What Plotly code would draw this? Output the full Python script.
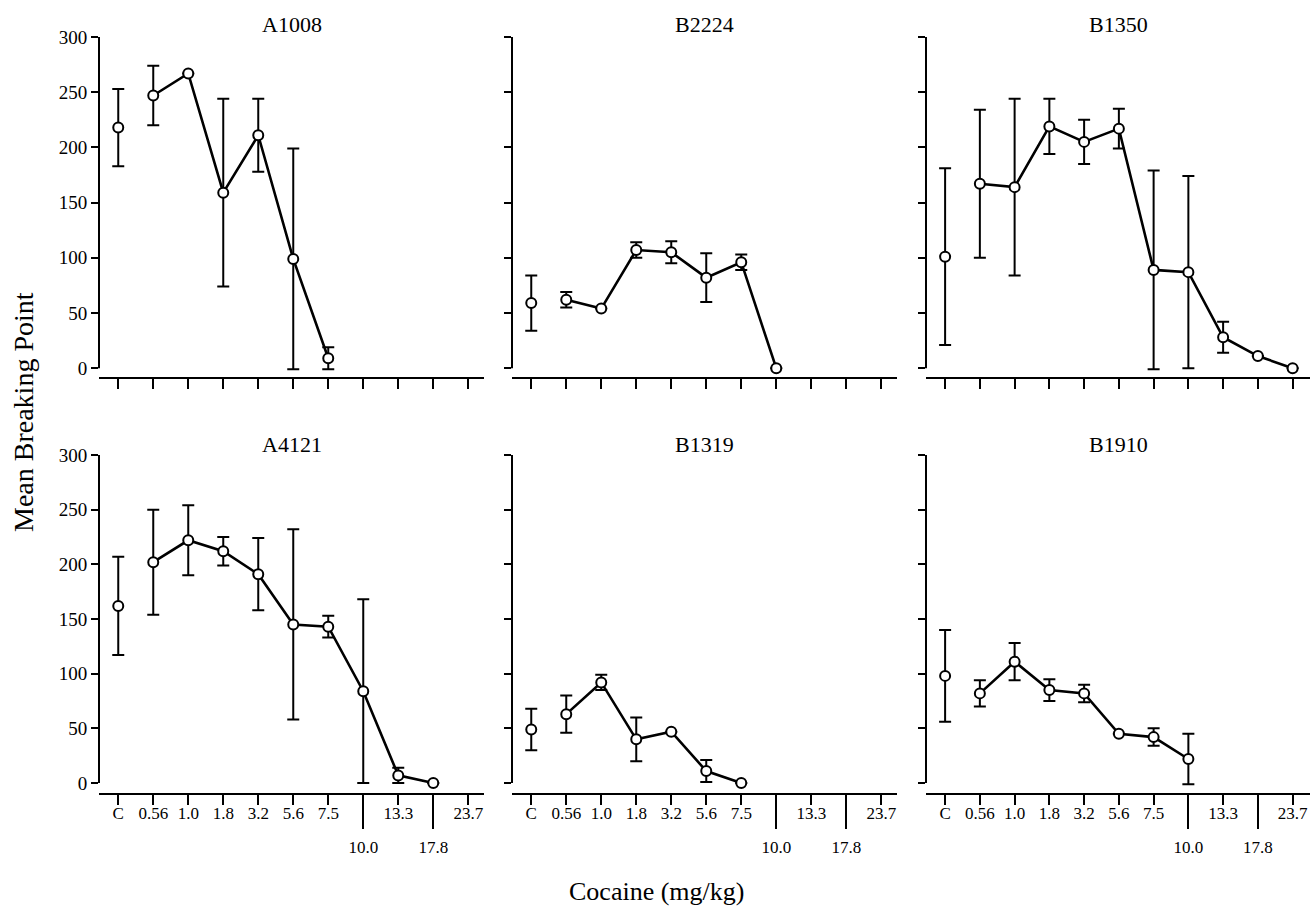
import plotly.graph_objects as go

# ---------------- data ----------------
categories = ["C", "0.56", "1.0", "1.8", "3.2", "5.6", "7.5", "10.0", "13.3", "17.8", "23.7"]
tick_text_main = ["C", "0.56", "1.0", "1.8", "3.2", "5.6", "7.5", "", "13.3", "", "23.7"]
tick_text_low = ["10.0", "17.8"]
low_tick_idx = [7, 9]
y_ticks = [0, 50, 100, 150, 200, 250, 300]

subjects = ["A1008", "B2224", "B1350", "A4121", "B1319", "B1910"]

a1008_mean = [218, 247, 267, 159, 211, 99, 9, None, None, None, None]
a1008_err = [35, 27, None, 85, 33, 100, 10, None, None, None, None]

b2224_mean = [59, 62, 54, 107, 105, 82, 96, 0, None, None, None]
b2224_err = [25, 7, None, 7, 10, 22, 7, None, None, None, None]

b1350_mean = [101, 167, 164, 219, 205, 217, 89, 87, 28, 11, 0]
b1350_err = [80, 67, 80, 25, 20, 18, 90, 87, 14, None, None]

a4121_mean = [162, 202, 222, 212, 191, 145, 143, 84, 7, 0, None]
a4121_err = [45, 48, 32, 13, 33, 87, 10, 84, 7, None, None]

b1319_mean = [49, 63, 92, 40, 47, 11, 0, None, None, None, None]
b1319_err = [19, 17, 7, 20, None, 10, None, None, None, None, None]

b1910_mean = [98, 82, 111, 85, 82, 45, 42, 22, None, None, None]
b1910_err = [42, 12, 17, 10, 8, None, 8, 23, None, None, None]

means = [a1008_mean, b2224_mean, b1350_mean, a4121_mean, b1319_mean, b1910_mean]
errs = [a1008_err, b2224_err, b1350_err, a4121_err, b1319_err, b1910_err]

# ---------------- layout geometry (page pixels) ----------------
W, H = 1310, 907
FONT = "Liberation Serif, Times New Roman, serif"


def px(x):
    return x / W


def py(y):
    return 1 - y / H


x_pix = [(99, 484), (512, 897), (926, 1310)]
x_ranges = [[-0.55, 10.45], [-0.55, 10.45], [-0.55, 10.5]]
row_pix = [(34.8, 377), (452.8, 793)]      # top, bottom page pixel of each row
row_range = [[-8, 302], [-9.1, 302]]
title_y_pix = [25, 445]


def ax_id(letter, n):
    return letter if n == 1 else f"{letter}{n}"


def ax_key(letter, n):
    return f"{letter}axis" if n == 1 else f"{letter}axis{n}"


fig = go.Figure()
xpos = list(range(len(categories)))
marker = dict(symbol="circle", size=10, color="white", line=dict(color="black", width=2))

for i, name in enumerate(subjects):
    n = i + 1
    row, col = divmod(i, 3)
    xa, ya = ax_id("x", n), ax_id("y", n)
    m, e = means[i], errs[i]

    # control point (not connected)
    fig.add_trace(go.Scatter(
        x=xpos[:1], y=m[:1], xaxis=xa, yaxis=ya, mode="markers",
        error_y=dict(type="data", array=e[:1], visible=True, color="black",
                     thickness=2, width=6),
        marker=marker, showlegend=False, cliponaxis=False))
    # dose series
    fig.add_trace(go.Scatter(
        x=xpos[1:], y=m[1:], xaxis=xa, yaxis=ya, mode="lines+markers",
        line=dict(color="black", width=2.6),
        error_y=dict(type="data", array=e[1:], visible=True, color="black",
                     thickness=2, width=6),
        marker=marker, showlegend=False, cliponaxis=False))

    x0p, x1p = x_pix[col]
    top, bot = row_pix[row]
    fig.layout[ax_key("x", n)] = dict(
        domain=[px(x0p), min(1.0, px(x1p))], anchor=ya, range=x_ranges[col],
        tickmode="array", tickvals=xpos,
        ticktext=tick_text_main if row == 1 else [""] * len(xpos),
        showticklabels=(row == 1), ticklabelstandoff=-6,
        ticks="outside", ticklen=10, tickwidth=2, tickcolor="black",
        showline=True, linecolor="black", linewidth=2,
        showgrid=False, zeroline=False, automargin=False,
        tickfont=dict(family=FONT, size=17, color="black"))
    fig.layout[ax_key("y", n)] = dict(
        domain=[py(bot), py(top)], anchor=xa, range=row_range[row],
        tickmode="array", tickvals=y_ticks,
        showticklabels=(col == 0),
        ticks="outside", ticklen=7, tickwidth=2, tickcolor="black",
        showline=False, showgrid=False, zeroline=False, automargin=False,
        tickfont=dict(family=FONT, size=19, color="black"))

    # y axis line from 0 to 300
    fig.add_shape(type="line", xref=f"{xa} domain", yref=ya,
                  x0=0, x1=0, y0=y_ticks[0], y1=y_ticks[-1],
                  line=dict(color="black", width=2))

    # panel title
    fig.add_annotation(text=name, xref=f"{xa} domain", x=0.5,
                       yref="paper", y=py(title_y_pix[row]),
                       showarrow=False, xanchor="center", yanchor="middle",
                       font=dict(family=FONT, size=22, color="black"))

    # long ticks with the lower labels (bottom row)
    if row == 1:
        k = 6 + col + 1
        fig.add_trace(go.Scatter(x=[], y=[], xaxis=ax_id("x", k), yaxis=ya,
                                 showlegend=False, hoverinfo="skip"))
        fig.layout[ax_key("x", k)] = dict(
            overlaying=xa, anchor=ya, range=x_ranges[col], side="bottom",
            tickmode="array", tickvals=low_tick_idx, ticktext=tick_text_low,
            ticks="outside", ticklen=35, tickwidth=2, tickcolor="black",
            ticklabelstandoff=4, automargin=False,
            showline=False, showgrid=False, zeroline=False,
            tickfont=dict(family=FONT, size=17, color="black"))

fig.add_annotation(text="Mean Breaking Point", xref="paper", yref="paper",
                   x=px(23), y=py(412), textangle=-90, showarrow=False,
                   xanchor="center", yanchor="middle",
                   font=dict(family=FONT, size=28, color="black"))
fig.add_annotation(text="Cocaine (mg/kg)", xref="paper", yref="paper",
                   x=px(656), y=py(891), showarrow=False,
                   xanchor="center", yanchor="middle",
                   font=dict(family=FONT, size=26, color="black"))

fig.update_layout(width=W, height=H, margin=dict(l=0, r=0, t=0, b=0, autoexpand=False),
                  plot_bgcolor="white", paper_bgcolor="white",
                  showlegend=False, font=dict(family=FONT, color="black"))

fig.write_html("out.html",
               config={"displayModeBar": False},
               post_script="document.body.style.margin='0';document.body.style.overflow='hidden';")
